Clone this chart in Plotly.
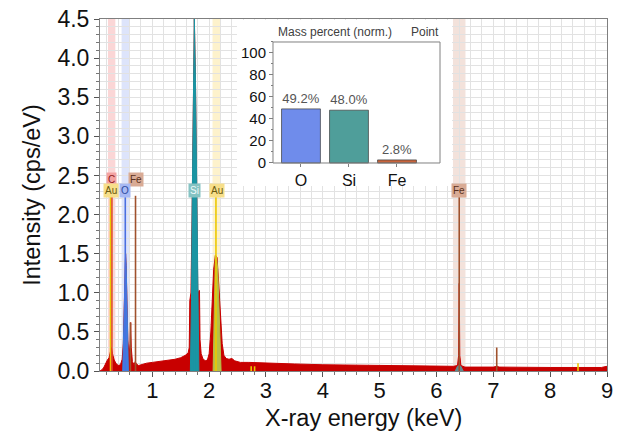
import plotly.graph_objects as go

# ---------------- data ----------------
# Full measured spectrum (keV, cps/eV)
energy = [0.08, 0.12, 0.15, 0.18, 0.21, 0.24, 0.26, 0.28, 0.30, 0.33, 0.36, 0.40, 0.44,
          0.47, 0.49, 0.51, 0.52, 0.53, 0.54, 0.55, 0.57, 0.59, 0.61, 0.62, 0.63,
          0.65, 0.68, 0.70, 0.72, 0.76, 0.80, 0.90, 1.00, 1.10, 1.20, 1.30, 1.40,
          1.50, 1.58, 1.63, 1.65, 1.66, 1.68, 1.70, 1.72, 1.74, 1.76, 1.78, 1.80,
          1.81, 1.83, 1.84, 1.86, 1.89, 1.93, 1.97, 2.00, 2.03, 2.05, 2.08, 2.11,
          2.14, 2.17, 2.20, 2.23, 2.26, 2.30, 2.35, 2.40, 2.45, 2.55, 2.70, 3.00,
          3.50, 4.00, 4.50, 5.00, 5.50, 6.00, 6.30, 6.37, 6.39, 6.40, 6.41, 6.43,
          6.50, 7.00, 7.05, 7.07, 7.10, 7.50, 8.00, 8.50, 8.90, 9.00]
intensity = [0.00, 0.02, 0.05, 0.10, 0.14, 0.17, 0.22, 0.30, 0.22, 0.14, 0.10, 0.07, 0.08,
             0.15, 0.35, 0.90, 1.30, 1.50, 1.35, 0.90, 0.40, 0.20, 0.35, 0.62, 0.30,
             0.12, 0.08, 0.12, 0.09, 0.07, 0.08, 0.10, 0.11, 0.12, 0.13, 0.14, 0.15,
             0.17, 0.20, 0.23, 0.30, 0.90, 1.00, 2.00, 3.60, 4.50, 3.70, 2.20, 1.05,
             1.00, 1.03, 0.40, 0.22, 0.16, 0.13, 0.14, 0.22, 0.50, 0.93, 1.30, 1.48,
             1.45, 1.10, 0.65, 0.35, 0.20, 0.16, 0.15, 0.16, 0.13, 0.11, 0.11, 0.10,
             0.09, 0.08, 0.075, 0.07, 0.065, 0.055, 0.06, 0.07, 0.20, 1.12, 0.20, 0.07,
             0.05, 0.05, 0.06, 0.06, 0.05, 0.045, 0.045, 0.045, 0.045, 0.06]

# Fitted element components
o_energy = [0.48, 0.50, 0.51, 0.52, 0.53, 0.54, 0.55, 0.56, 0.58]
o_int = [0.00, 0.50, 0.90, 1.30, 1.50, 1.35, 0.90, 0.50, 0.00]
si_energy = [1.67, 1.69, 1.70, 1.72, 1.74, 1.76, 1.78, 1.80, 1.82]
si_int = [0.00, 0.90, 2.00, 3.60, 4.50, 3.70, 2.20, 0.90, 0.00]
au_energy = [2.07, 2.09, 2.11, 2.13, 2.15, 2.17, 2.19, 2.21]
au_int = [0.00, 0.90, 1.48, 1.45, 1.30, 0.90, 0.50, 0.00]
fek_energy = [6.33, 6.37, 6.40, 6.43, 6.47]
fek_int = [0.00, 0.06, 0.07, 0.06, 0.00]

# Characteristic line markers
line_elem = ["Au", "C", "O", "Fe", "Fe", "Si", "Au", "Au", "Au", "Fe", "Fe", "Au"]
line_energy = [0.265, 0.29, 0.525, 0.615, 0.705, 1.74, 2.12, 2.74, 2.80, 6.40, 7.06, 8.49]
line_height = [2.24, 2.24, 2.24, 0.62, 2.24, 2.24, 2.24, 0.06, 0.06, 2.24, 0.30, 0.10]

# Element labels
label_elem = ["C", "Fe", "Au", "O", "Si", "Au", "Fe"]
label_energy = [0.29, 0.715, 0.275, 0.525, 1.75, 2.14, 6.40]
label_row = [1, 1, 0, 0, 0, 0, 0]

# Highlight bands
band_elem = ["C", "O", "Au", "Fe"]
band_energy = [0.285, 0.525, 2.13, 6.40]

# Inset: mass percent
mass_elem = ["O", "Si", "Fe"]
mass_pct = [49.2, 48.0, 2.8]

# ---------------- style ----------------
RED = "#c80000"
line_col = {"Au": "#ecc800", "C": "#e0502c", "O": "#4a6fe0", "Fe": "#a0522d", "Si": "#1a95a3"}
box_col = {"C": "#f4a3a3", "Au": "#f7df8a", "O": "#a7b9f3", "Fe": "#d9ab95", "Si": "#86c3c3"}
txt_col = {"C": "#8b1a1a", "Au": "#6b5a10", "O": "#2c4ba0", "Fe": "#5a3020", "Si": "#eefafa"}
band_col = {"C": "#fbd6d6", "O": "#dde4fb", "Au": "#fdf2cc", "Fe": "#f3e2db"}
band_w = {"C": 0.13, "O": 0.13, "Au": 0.14, "Fe": 0.22}
bar_col = {"O": "#6f8ceb", "Si": "#4f9e9a", "Fe": "#c8643c"}
FONT = "Liberation Sans, Arial, sans-serif"

fig = go.Figure()

# spectrum
fig.add_trace(go.Scatter(x=energy, y=intensity, mode="lines", fill="tozeroy",
                         line=dict(color=RED, width=1), fillcolor=RED, hoverinfo="skip"))
for ex, ey, col in [(o_energy, o_int, "#3d7fe0"), (si_energy, si_int, "#1a95a3"),
                    (au_energy, au_int, "#b7bf45"), (fek_energy, fek_int, "#5f8a8f")]:
    fig.add_trace(go.Scatter(x=ex, y=ey, mode="lines", fill="tozeroy",
                             line=dict(color=col, width=1), fillcolor=col, hoverinfo="skip"))

# line markers
for el, e, h in zip(line_elem, line_energy, line_height):
    fig.add_trace(go.Scatter(x=[e, e], y=[0, h], mode="lines",
                             line=dict(color=line_col[el], width=1.6), hoverinfo="skip"))

# bands
shapes = []
for el, e in zip(band_elem, band_energy):
    shapes.append(dict(type="rect", xref="x", yref="y domain", x0=e - band_w[el] / 2,
                       x1=e + band_w[el] / 2, y0=0, y1=1, fillcolor=band_col[el],
                       line=dict(width=0), layer="below"))

annotations = []
for el, e, r in zip(label_elem, label_energy, label_row):
    annotations.append(dict(x=e, y=2.31 + 0.14 * r, xref="x", yref="y", text=el,
                            showarrow=False, bgcolor=box_col[el], borderpad=1,
                            font=dict(family=FONT, size=10, color=txt_col[el])))

# inset bars
fig.add_trace(go.Bar(x=mass_elem, y=mass_pct, xaxis="x2", yaxis="y2", width=0.81,
                     marker=dict(color=[bar_col[m] for m in mass_elem],
                                 line=dict(color="rgba(60,60,60,0.7)", width=1)),
                     text=[f"{v:.1f}%" for v in mass_pct], textposition="outside",
                     textfont=dict(family=FONT, size=13, color="#555555"),
                     cliponaxis=False, hoverinfo="skip"))

# inset background and frame
shapes.append(dict(type="rect", xref="x2", yref="y2", x0=-1.34, x1=3.15, y0=-21, y1=131,
                   fillcolor="white", line=dict(width=0), layer="below"))
shapes.append(dict(type="rect", xref="x2", yref="y2", x0=-0.583, x1=2.896, y0=0, y1=110,
                   fillcolor="rgba(0,0,0,0)", line=dict(color="#808080", width=1), layer="above"))

annotations.append(dict(x=0.4635, y=0.963, xref="paper", yref="paper", text="Mass percent (norm.)",
                        xanchor="center", yanchor="middle", showarrow=False,
                        font=dict(family=FONT, size=12, color="#404040")))
annotations.append(dict(x=0.641, y=0.963, xref="paper", yref="paper", text="Point",
                        xanchor="center", yanchor="middle", showarrow=False,
                        font=dict(family=FONT, size=12, color="#404040")))
# x-axis title
annotations.append(dict(x=0.5207, y=-0.1335, xref="paper", yref="paper", text="X-ray energy (keV)",
                        xanchor="center", yanchor="middle", showarrow=False,
                        font=dict(family=FONT, size=23.5, color="#111111")))

GRID = "#e2e2e2"
fig.update_layout(
    width=618, height=441,
    margin=dict(l=100, r=11, t=19, b=70),
    paper_bgcolor="white", plot_bgcolor="white",
    showlegend=False,
    font=dict(family=FONT, color="#111111"),
    shapes=shapes, annotations=annotations,
    xaxis=dict(range=[0.08, 9.0], tick0=0, dtick=1, showgrid=True, gridcolor=GRID,
               automargin=False, ticklabelstandoff=-5,
               ticks="outside", ticklen=5, tickcolor="#555555",
               minor=dict(dtick=0.2, tick0=0, showgrid=True, gridcolor=GRID, ticks="outside",
                          ticklen=3, tickcolor="#777777"),
               showline=True, linecolor="#7f7f7f", mirror=True, zeroline=False,
               tickfont=dict(size=22)),
    yaxis=dict(range=[0, 4.5], tick0=0, dtick=0.5, tickformat=".1f", showgrid=True,
               automargin=False,
               gridcolor=GRID, ticks="outside", ticklen=5, tickcolor="#555555",
               minor=dict(dtick=0.1, tick0=0, showgrid=True, gridcolor=GRID, ticks="outside",
                          ticklen=3, tickcolor="#777777"),
               showline=True, linecolor="#7f7f7f", mirror=True, zeroline=False,
               tickfont=dict(size=23), title=dict(text="Intensity (cps/eV)", font=dict(size=23.5),
                                                  standoff=10)),
    xaxis2=dict(domain=[0.2702, 0.6943], anchor="free", position=0.5909, automargin=False,
                range=[-1.333, 3.146], showgrid=False, showline=False, zeroline=False,
                ticks="outside", ticklen=3, tickcolor="#808080",
                tickfont=dict(size=16, color="#111111")),
    yaxis2=dict(domain=[0.5256, 0.9972], anchor="free", position=0.3412, automargin=False,
                range=[-20.9, 130], showgrid=False, showline=False, zeroline=False,
                tickvals=[0, 20, 40, 60, 80, 100], ticks="outside", ticklen=4,
                tickcolor="#808080", tickfont=dict(size=15, color="#111111"),
                minor=dict(tickvals=[10, 30, 50, 70, 90, 110], ticks="outside", ticklen=2,
                           tickcolor="#808080")),
)

fig.write_html("out.html")
